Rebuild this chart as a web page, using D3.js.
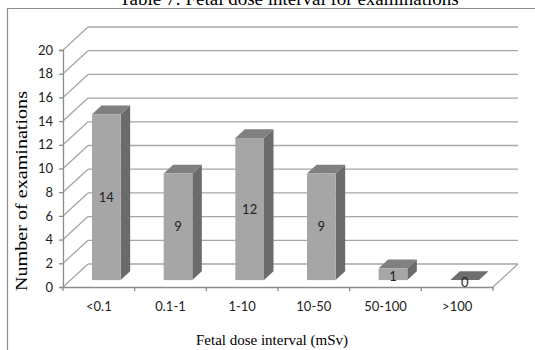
<!DOCTYPE html>
<html>
<head>
<meta charset="utf-8">
<script src="https://cdn.jsdelivr.net/npm/d3@7"></script>
<style>
    body { margin: 0; background: white; }
    svg { display: block; }
</style>
</head>
<body>
<div id="chart"></div>
<script>
// data
const categories = ["<0.1", "0.1-1", "1-10", "10-50", "50-100", ">100"];
const counts = [14, 9, 12, 9, 1, 0];
const yTicks = [0, 2, 4, 6, 8, 10, 12, 14, 16, 18, 20];

const width = 535;
const height = 350;

// depth of the 3d box (back wall shift) and bar placement inside it
const depth = { dx: 25, dy: -23 };
const barFront = 0.3;
const barBack = 0.68;

const tickFont = "Lato, 'Open Sans', sans-serif";
const titleFont = "'Liberation Serif', 'Times New Roman', serif";

const x = d3.scaleBand().domain(categories).range([63, 493]).paddingInner(0).paddingOuter(0);
const y = d3.scaleLinear().domain([0, 20]).range([287, 50]);
const barWidth = x.bandwidth() / 2.5;

const svg = d3.select("#chart")
    .append("svg")
    .attr("width", width)
    .attr("height", height);

// title, mostly cut off at the top
svg.append("text")
    .attr("x", 289)
    .attr("y", 5)
    .attr("text-anchor", "middle")
    .style("font-family", titleFont)
    .style("font-size", "19px")
    .text("Table 7: Fetal dose interval for examinations");

// chart frame (left and top edges only visible)
svg.append("path")
    .attr("d", `M7.5,${height} V8.5 H${width}`)
    .attr("fill", "none")
    .attr("stroke", "#8c8c8c")
    .attr("stroke-width", 1.2);

const grid = svg.append("g")
    .attr("stroke", "#a6a6a6")
    .attr("stroke-width", 1.3)
    .attr("fill", "none");

const x0 = x.range()[0];
const x1 = x.range()[1];

// back wall lines and left wall diagonals
grid.selectAll(".back")
    .data(yTicks)
    .join("line")
    .attr("x1", x0 + depth.dx)
    .attr("x2", x1 + depth.dx)
    .attr("y1", d => y(d) + depth.dy)
    .attr("y2", d => y(d) + depth.dy);

grid.selectAll(".side")
    .data(yTicks)
    .join("line")
    .attr("x1", x0)
    .attr("x2", x0 + depth.dx)
    .attr("y1", d => y(d))
    .attr("y2", d => y(d) + depth.dy);

// floor right edge
grid.append("line")
    .attr("x1", x1)
    .attr("y1", y(0))
    .attr("x2", x1 + depth.dx)
    .attr("y2", y(0) + depth.dy);

// bars
const bars = svg.append("g")
    .selectAll("g")
    .data(categories.map((c, i) => ({ cat: c, value: counts[i] })))
    .join("g");

function corner(d, front) {
    const f = front ? barFront : barBack;
    const left = x(d.cat) + (x.bandwidth() - barWidth) / 2 + depth.dx * f;
    const base = y(0) + depth.dy * f;
    return { left, right: left + barWidth, base, top: base - (y(0) - y(d.value)) };
}

bars.filter(d => d.value > 0)
    .append("path")
    .attr("fill", "#6b6b6b")
    .attr("d", d => {
        const a = corner(d, true), b = corner(d, false);
        return `M${a.right},${a.base} L${b.right},${b.base} L${b.right},${b.top} L${a.right},${a.top} Z`;
    });

bars.append("path")
    .attr("fill", d => d.value > 0 ? "#808080" : "#6e6e6e")
    .attr("d", d => {
        const a = corner(d, true), b = corner(d, false);
        return `M${a.left},${a.top} L${a.right},${a.top} L${b.right},${b.top} L${b.left},${b.top} Z`;
    });

bars.filter(d => d.value > 0)
    .append("rect")
    .attr("fill", "#a6a6a6")
    .attr("x", d => corner(d, true).left)
    .attr("y", d => corner(d, true).top)
    .attr("width", barWidth)
    .attr("height", d => y(0) - y(d.value));

bars.append("text")
    .attr("x", d => corner(d, true).left + barWidth / 2)
    .attr("y", d => { const a = corner(d, true); return (a.top + a.base) / 2 + (d.value < 2 ? 2 : 0); })
    .attr("dy", "0.35em")
    .attr("text-anchor", "middle")
    .style("font-family", tickFont)
    .style("font-size", "13px")
    .style("fill", "#222")
    .text(d => d.value);

// y axis
const yAxis = svg.append("g")
    .attr("transform", `translate(${x0},0)`)
    .call(d3.axisLeft(y).tickValues(yTicks).tickSize(4).tickPadding(6));

// x axis: ticks on the category boundaries
const xAxis = svg.append("g")
    .attr("transform", `translate(0,${y(0)})`)
    .call(d3.axisBottom(x).tickSize(0).tickPadding(15));

xAxis.selectAll(".bound")
    .data(categories.map(c => x(c)).concat([x1]))
    .join("line")
    .attr("class", "bound")
    .attr("x1", d => d)
    .attr("x2", d => d)
    .attr("y1", 0)
    .attr("y2", 4);

[yAxis, xAxis].forEach(g => {
    g.select(".domain").attr("stroke", "#8c8c8c").attr("stroke-width", 1.3);
    g.selectAll("line").attr("stroke", "#8c8c8c").attr("stroke-width", 1.3);
    g.selectAll("text")
        .style("font-family", tickFont)
        .style("font-size", "13px")
        .style("fill", "#222");
});

// axis titles
svg.append("text")
    .attr("transform", "translate(27,191) rotate(-90)")
    .attr("text-anchor", "middle")
    .attr("textLength", 200)
    .attr("lengthAdjust", "spacingAndGlyphs")
    .style("font-family", titleFont)
    .style("font-size", "17px")
    .text("Number of examinations");

svg.append("text")
    .attr("x", 272)
    .attr("y", 345)
    .attr("text-anchor", "middle")
    .style("font-family", titleFont)
    .style("font-size", "15px")
    .text("Fetal dose interval (mSv)");
</script>
</body>
</html>
